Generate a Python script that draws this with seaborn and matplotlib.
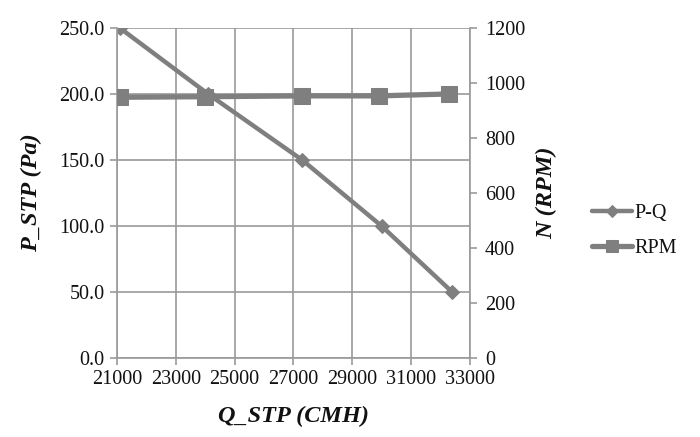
import matplotlib
matplotlib.use("Agg")
import matplotlib.pyplot as plt
import seaborn as sns
import pandas as pd

q_pq = [21100, 24100, 27300, 30000, 32400]
p_pq = [250.0, 200.0, 150.0, 100.0, 50.0]
q_rpm = [21100, 24000, 27300, 29900, 32300]
n_rpm = [948, 950, 953, 953, 960]

sns.set_theme(style="white")
plt.rcParams['font.family'] = ['Liberation Serif', 'DejaVu Serif']

gray = "#7f7f7f"
grid_c = "#9a9a9a"
txt = "#111111"

fig = plt.figure(figsize=(7, 4.37), dpi=100)
ax = fig.add_axes([0.167, 0.181, 0.504, 0.755])
ax2 = ax.twinx()

df1 = pd.DataFrame({"Q": q_pq, "P": p_pq})
df2 = pd.DataFrame({"Q": q_rpm, "N": n_rpm})

sns.lineplot(data=df1, x="Q", y="P", ax=ax, color=gray, lw=3.2, marker="D",
             markersize=7.5, markeredgecolor=gray, label="P-Q", legend=False)
sns.lineplot(data=df2, x="Q", y="N", ax=ax2, color=gray, lw=3.8, marker="s",
             markersize=11, markeredgecolor=gray, label="RPM", legend=False)

ax.set_xlim(21000, 33000)
ax.set_ylim(0, 250)
ax2.set_ylim(0, 1200)
ax.set_xticks(range(21000, 33001, 2000))
ax.set_yticks([0, 50, 100, 150, 200, 250])
ax.set_yticklabels([f"{v:.1f}" for v in [0, 50, 100, 150, 200, 250]])
ax2.set_yticks(range(0, 1201, 200))

ax.grid(True, color=grid_c, lw=1.2)
ax2.grid(False)
for a in (ax, ax2):
    for sp in a.spines.values():
        sp.set_color(grid_c)
        sp.set_linewidth(1.2)
    a.spines["top"].set_visible(False)
ax.spines["right"].set_visible(False)
ax2.spines["left"].set_visible(False)
ax2.spines["bottom"].set_visible(False)

ax.tick_params(axis="both", direction="out", length=5, width=1.2, color=grid_c,
               labelsize=14.5, labelcolor=txt, left=True, bottom=True, pad=4)
ax2.tick_params(axis="y", direction="out", length=5, width=1.2, color=grid_c,
                labelsize=14.5, labelcolor=txt, right=True, pad=6)

ax.set_xlabel("Q_STP (CMH)", fontsize=17.5, fontweight="bold", style="italic",
              color=txt, labelpad=12)
ax.set_ylabel("P_STP (Pa)", fontsize=17.5, fontweight="bold", style="italic",
              color=txt, labelpad=12)
ax2.set_ylabel("N (RPM)", fontsize=17.5, fontweight="bold", style="italic",
               color=txt, labelpad=8)

h1, l1 = ax.get_legend_handles_labels()
h2, l2 = ax2.get_legend_handles_labels()
fig.legend(h1 + h2, l1 + l2, loc="center left", bbox_to_anchor=(0.82, 0.472),
           frameon=False, fontsize=14.5, handlelength=2.0, handletextpad=0.1,
           labelspacing=0.8, labelcolor=txt, markerscale=0.75)

fig.savefig("out.png", dpi=100)
